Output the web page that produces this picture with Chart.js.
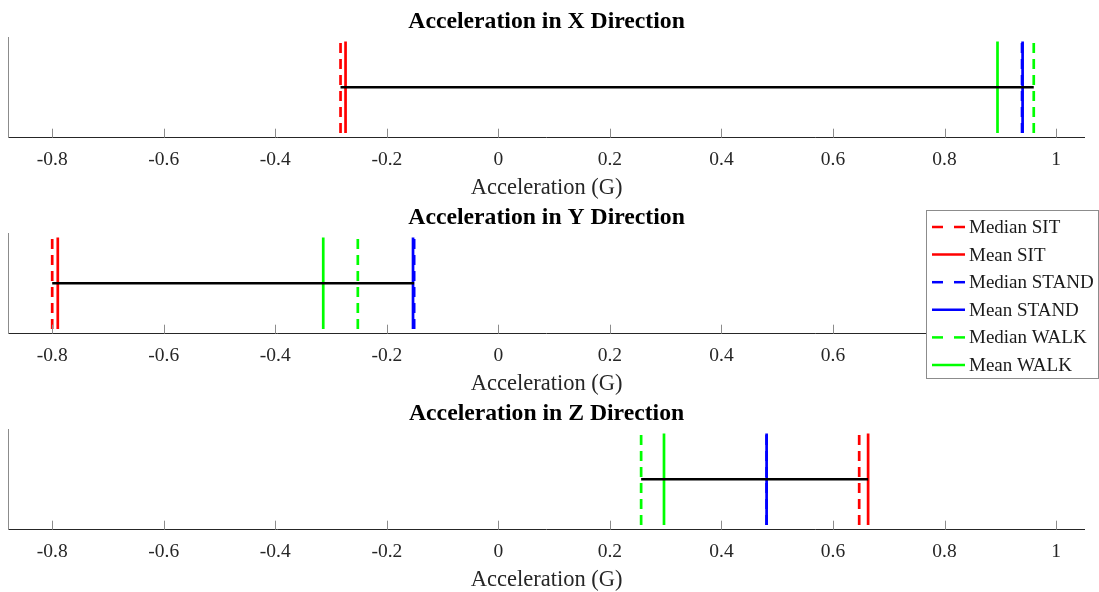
<!DOCTYPE html>
<html>
<head>
<meta charset="utf-8">
<script src="https://cdn.jsdelivr.net/npm/chart.js@4.4.1/dist/chart.umd.min.js"></script>
<style>
  body { margin: 0; background: #fff; }
  #wrap { position: relative; width: 1099px; height: 592px; overflow: hidden; }
  canvas { position: absolute; left: 0; }
</style>
</head>
<body>
<div id="wrap">
  <canvas id="chart-x" width="1099" height="200" style="top:0px"></canvas>
  <canvas id="chart-y" width="1099" height="200" style="top:196px"></canvas>
  <canvas id="chart-z" width="1099" height="200" style="top:392px"></canvas>
</div>
<script>
// --- datos (X, Y, Z) ---
const directions = ['X', 'Y', 'Z'];
const medianSit   = [-0.283, -0.800, 0.647];
const meanSit     = [-0.274, -0.790, 0.663];
const medianStand = [ 0.939, -0.151, 0.481];
const meanStand   = [ 0.940, -0.153, 0.481];
const medianWalk  = [ 0.960, -0.252, 0.256];
const meanWalk    = [ 0.895, -0.314, 0.297];

const xTicks = [-0.8, -0.6, -0.4, -0.2, 0, 0.2, 0.4, 0.6, 0.8, 1];
const xTickLabels = ['-0.8', '-0.6', '-0.4', '-0.2', '0', '0.2', '0.4', '0.6', '0.8', '1'];

const seriesLabels = ['Median SIT', 'Mean SIT', 'Median STAND', 'Mean STAND', 'Median WALK', 'Mean WALK'];
const seriesValues = [medianSit, meanSit, medianStand, meanStand, medianWalk, meanWalk];
const seriesColors = ['#ff0000', '#ff0000', '#0000ff', '#0000ff', '#00ff00', '#00ff00'];
const seriesDashed = [true, false, true, false, true, false];

const FONT = "'Liberation Serif', 'Times New Roman', serif";
Chart.defaults.font.family = FONT;

// marcas de eje hacia dentro (estilo MATLAB)
const innerTicks = {
    id: 'innerTicks',
    afterDatasetsDraw(chart) {
        const { ctx, chartArea, scales } = chart;
        ctx.save();
        ctx.strokeStyle = '#8c8c8c';
        ctx.lineWidth = 1;
        scales.x.ticks.forEach(t => {
            const px = Math.round(scales.x.getPixelForValue(t.value)) + 0.5;
            ctx.beginPath();
            ctx.moveTo(px, chartArea.bottom);
            ctx.lineTo(px, chartArea.bottom - 9);
            ctx.stroke();
        });
        ctx.restore();
    }
};

// leyenda dibujada a mano (sobresale del area del grafico)
const boxLegend = {
    id: 'boxLegend',
    afterDraw(chart) {
        const ctx = chart.ctx;
        const left = 926.5, top = 14.5, right = 1098.5, bottom = 182.5;
        ctx.save();
        ctx.fillStyle = '#ffffff';
        ctx.fillRect(left, top, right - left, bottom - top);
        ctx.strokeStyle = '#8c8c8c';
        ctx.lineWidth = 1;
        ctx.strokeRect(left, top, right - left, bottom - top);
        ctx.font = '19px ' + FONT;
        ctx.textBaseline = 'middle';
        ctx.fillStyle = '#1a1a1a';
        chart.data.datasets.filter(d => d.inLegend).forEach((d, i) => {
            const y = 31 + i * 27.6;
            ctx.strokeStyle = d.borderColor;
            ctx.lineWidth = 2.5;
            ctx.setLineDash(d.borderDash.length ? [11, 11] : []);
            ctx.beginPath();
            ctx.moveTo(932, y);
            ctx.lineTo(965, y);
            ctx.stroke();
            ctx.setLineDash([]);
            ctx.fillText(d.label, 969, y + 1);
        });
        ctx.restore();
    }
};

function buildDatasets(k) {
    const vals = seriesValues.map(s => s[k]);
    const lo = Math.min(...vals);
    const hi = Math.max(...vals);
    const sets = [{
        label: 'range',
        data: [{ x: lo, y: 0.5 }, { x: hi, y: 0.5 }],
        showLine: true,
        borderColor: '#000000',
        borderWidth: 2.5,
        borderDash: [],
        pointRadius: 0,
        order: 0,
        inLegend: false
    }];
    seriesLabels.forEach((label, i) => {
        sets.push({
            label: label,
            data: [{ x: seriesValues[i][k], y: 0 }, { x: seriesValues[i][k], y: 1 }],
            showLine: true,
            borderColor: seriesColors[i],
            borderWidth: 2.7,
            borderDash: seriesDashed[i] ? [10, 6] : [],
            pointRadius: 0,
            order: 10 - i,
            inLegend: true
        });
    });
    return sets;
}

function makeChart(canvasId, k, withLegend) {
    const plugins = [innerTicks];
    if (withLegend) plugins.push(boxLegend);
    return new Chart(document.getElementById(canvasId).getContext('2d'), {
        type: 'scatter',
        data: { datasets: buildDatasets(k) },
        plugins: plugins,
        options: {
            responsive: false,
            animation: false,
            devicePixelRatio: 1,
            layout: { padding: { left: 8.7, right: 14.5, top: 0, bottom: 0.7 } },
            plugins: {
                legend: { display: false },
                tooltip: { enabled: false },
                title: {
                    display: true,
                    text: 'Acceleration in ' + directions[k] + ' Direction',
                    color: '#000000',
                    font: { family: FONT, size: 23.7, weight: 'bold', lineHeight: 1.2 },
                    padding: { top: 7.6, bottom: 1 }
                }
            },
            scales: {
                x: {
                    type: 'linear',
                    min: -0.878,
                    max: 1.051,
                    afterBuildTicks: scale => { scale.ticks = xTicks.map(v => ({ value: v })); },
                    grid: { display: false, drawTicks: false },
                    border: { display: true, color: '#262626', width: 1 },
                    ticks: {
                        color: '#262626',
                        padding: 10.1,
                        maxRotation: 0,
                        font: { family: FONT, size: 19.5, lineHeight: 1.2 },
                        callback: (v, i) => xTickLabels[i]
                    },
                    title: {
                        display: true,
                        text: 'Acceleration (G)',
                        color: '#262626',
                        font: { family: FONT, size: 22.5, lineHeight: 1.2 },
                        padding: { top: -7, bottom: -2 }
                    }
                },
                y: {
                    min: -0.05,
                    max: 1.05,
                    grid: { display: false, drawTicks: false },
                    border: { display: true, color: '#8c8c8c', width: 1 },
                    ticks: { display: false }
                }
            }
        }
    });
}

makeChart('chart-x', 0, false);
makeChart('chart-y', 1, true);
makeChart('chart-z', 2, false);
</script>
</body>
</html>
